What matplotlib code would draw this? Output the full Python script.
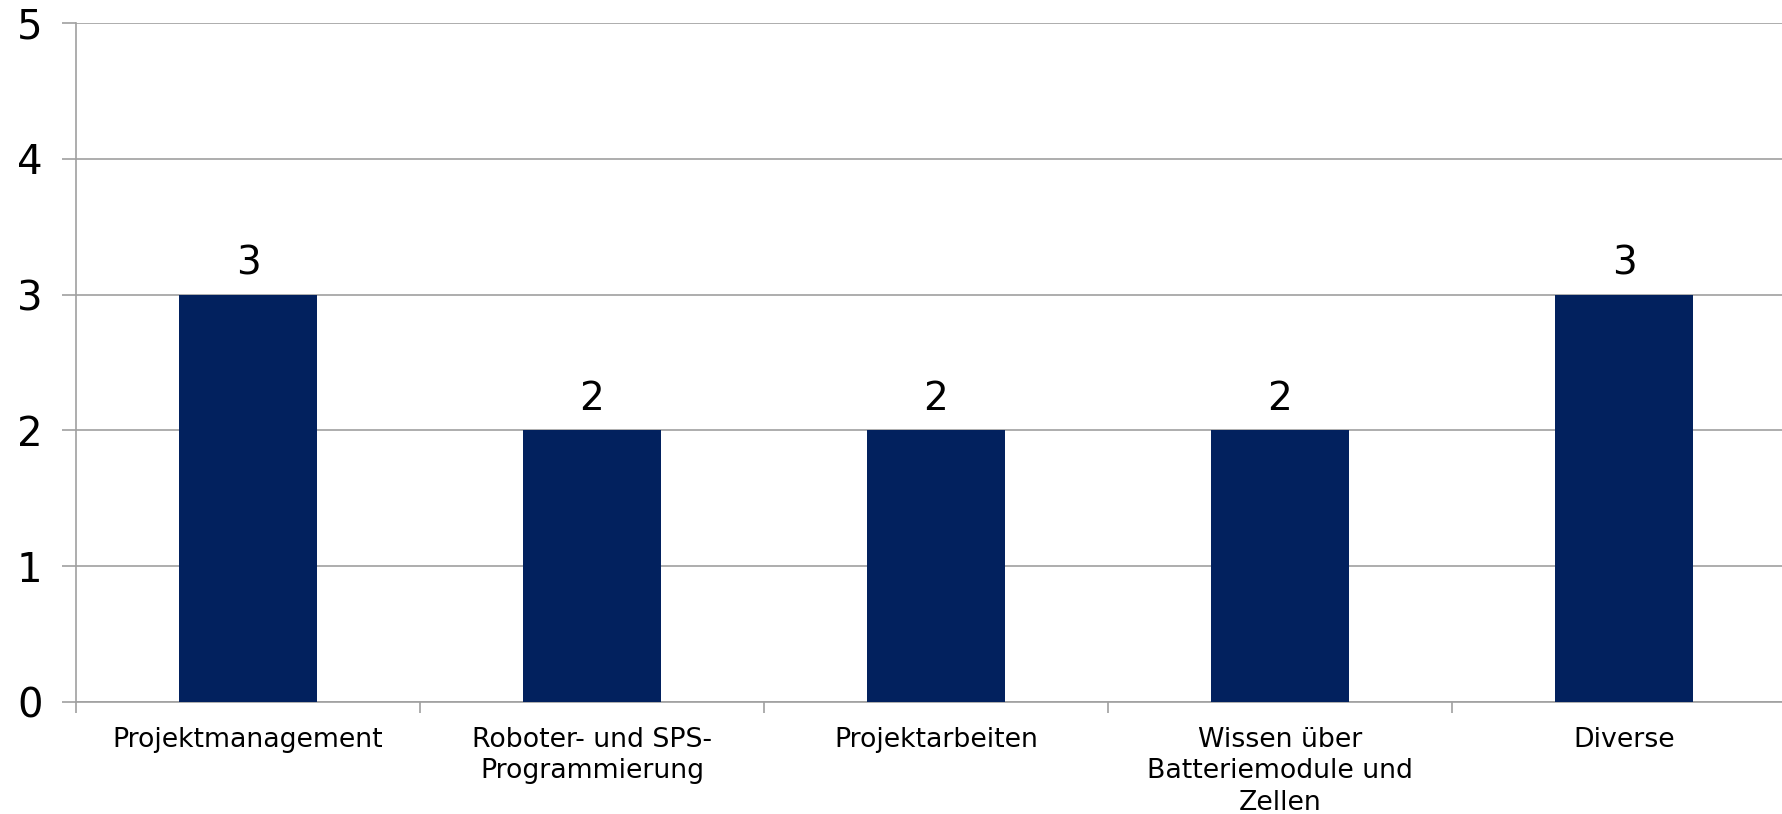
import matplotlib.pyplot as plt

categories = ["Projektmanagement", "Roboter- und SPS-\nProgrammierung", "Projektarbeiten",
              "Wissen über\nBatteriemodule und\nZellen", "Diverse"]
values = [3, 2, 2, 2, 3]
yticks = [0, 1, 2, 3, 4, 5]

plt.rcParams['font.family'] = ['DejaVu Sans']

fig = plt.figure(figsize=(17.83, 8.14), dpi=100)
# axis runs a little past the right edge of the picture, as in the original
ax = fig.add_axes([76 / 1783, 1 - 702 / 814, 1720 / 1783, 679 / 814])

x = list(range(len(categories)))
bars = ax.bar(x, values, width=0.4, color='#02215E', zorder=3)

for b, v in zip(bars, values):
    ax.annotate(str(v), (b.get_x() + b.get_width() / 2, v), xytext=(0, 9),
                textcoords='offset points', ha='center', va='bottom', fontsize=28)

ax.set_xlim(-0.5, len(categories) - 0.5)
ax.set_ylim(0, 5)
ax.set_yticks(yticks)
ax.set_yticklabels([str(t) for t in yticks], fontsize=29)
ax.yaxis.grid(True, color='#A0A0A0', linewidth=1.2, zorder=0)
ax.tick_params(axis='y', length=10, width=1.2, color='#A0A0A0', pad=14)

# category labels between tick marks at category boundaries
ax.set_xticks([i - 0.5 for i in range(len(categories) + 1)])
ax.set_xticklabels([])
ax.tick_params(axis='x', length=8, width=1.2, color='#A0A0A0')
ax.set_xticks(x, minor=True)
ax.set_xticklabels(categories, minor=True, fontsize=19.3, linespacing=1.27)
ax.tick_params(axis='x', which='minor', length=0, pad=18)

for s in ['top', 'right']:
    ax.spines[s].set_visible(False)
for s in ['left', 'bottom']:
    ax.spines[s].set_color('#A0A0A0')
    ax.spines[s].set_linewidth(1.2)

fig.savefig('out.png', dpi=100)
